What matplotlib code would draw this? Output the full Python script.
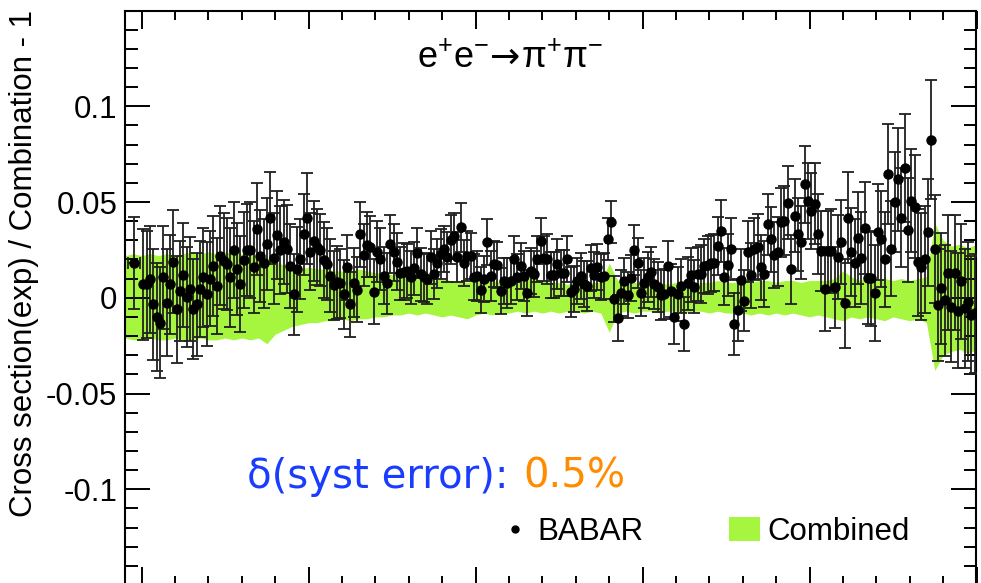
import matplotlib
matplotlib.use("Agg")
import matplotlib.pyplot as plt
import numpy as np
from matplotlib.ticker import MultipleLocator, FixedLocator, FuncFormatter
from matplotlib.lines import Line2D
from matplotlib.patches import Patch

plt.rcParams['font.family'] = ['Liberation Sans', 'DejaVu Sans']
plt.rcParams['axes.unicode_minus'] = False
plt.rcParams['mathtext.fontset'] = 'custom'
plt.rcParams['mathtext.rm'] = 'Liberation Sans'
plt.rcParams['mathtext.it'] = 'Liberation Sans:italic'

# BABAR points, 2 MeV bins from 0.300 to 0.800 GeV
bin_start = 0.300
bin_width = 0.002

ratio_a = [0.007, 0.007, 0.0096, -0.0035, -0.010, -0.013, 0.0106, -0.0026, 0.007, 0.0188,
           -0.006, 0.0035, 0.0118, 0.0005, 0.0045, -0.006, -0.0035, 0.0045, 0.0106, 0.0019,
           0.010, 0.0167, 0.0063, 0.022, 0.0193, 0.0176, 0.0106, 0.0249, 0.015, 0.0071,
           0.0197, 0.0249, 0.0249, 0.0162, 0.0358, 0.0219, 0.0179, 0.028]
ratio_b = [0.0418, 0.0205, 0.0327, 0.0249, 0.0292, 0.0254, 0.0167, 0.0017, 0.0148, 0.0202,
           0.0331, 0.0414, 0.024, 0.0296, 0.0266, 0.0249, 0.0197, 0.0176, 0.0115, 0.0066,
           0.008, 0.0075, 0.0019, 0.0158, -0.0033, 0.0078, 0.0043, 0.0331, 0.0223, 0.0278,
           0.0266, 0.0031, 0.024, 0.0202, 0.0115, 0.0075, 0.028, 0.0237, 0.0188, 0.0127,
           0.0136, 0.0139]
ratio_c = [0.0106, 0.0153, 0.0235, 0.0122, 0.0106, 0.0096, 0.0211, 0.0122, 0.0179, 0.0228,
           0.0254, 0.0211, 0.0304, 0.0322, 0.0211, 0.0367, 0.0183, 0.0219, 0.0219, 0.0106,
           0.0115, 0.004, 0.0096, 0.0292, 0.0115, 0.0176, 0.017, 0.0035, 0.0085, 0.0075,
           0.0085, 0.0202, 0.0106, 0.0167, 0.0115, 0.0023, 0.0141, 0.0122, 0.0202, 0.0296,
           0.0205, 0.0202, 0.0118]
ratio_d = [0.0118, 0.0176, 0.013, 0.0127, 0.0200, 0.0028, 0.0045, 0.0085, 0.0113, 0.0071,
           0.0063, 0.0153, 0.0118, 0.0162, 0.0106, 0.0113, 0.0306, 0.0397, -0.0007, -0.0104,
           0.0023, 0.0085, 0.0014, 0.0101, 0.0249, 0.0183, 0.0026, 0.0078, 0.011, 0.0136,
           0.0071, 0.0057, 0.0014, 0.0019, 0.0167, 0.0037, -0.0099, 0.0019, 0.0061, -0.0137,
           0.0075, 0.0118]
ratio_e = [0.0058, 0.0124, 0.0124, 0.0165, 0.0171, 0.0179, 0.0183, 0.027, 0.0348, 0.011,
           0.0171, 0.0254, -0.0137, -0.0064, 0.0092, -0.0016, 0.024, 0.0118, 0.0254, 0.0266,
           0.0158, 0.0124, 0.0384, 0.0306, 0.0223, 0.024, 0.0393, 0.0402, 0.0496, 0.0148,
           0.0428, 0.0331, 0.0289, 0.0592, 0.0505, 0.0453, 0.0492, 0.0332, 0.0245, 0.0044,
           0.0245, 0.0245, 0.0054]
ratio_f = [0.0214, 0.0292, -0.003, 0.0419, 0.024, 0.0183, 0.031, 0.0206, 0.0362, 0.0101,
           0.0101, 0.0026, 0.0345, 0.0305, 0.02, 0.0646, 0.0257, 0.0501, 0.0618, 0.0418,
           0.0678, 0.0353, 0.0507, 0.0475, 0.0185, 0.0162, 0.02, 0.0341, 0.0826, 0.0254,
           -0.0038, 0.0049, -0.0012, 0.013, -0.0047, 0.013, -0.0068, 0.0087, -0.0056, -0.0021,
           -0.009, -0.0082]

err_a = [0.029, 0.028, 0.028, 0.029, 0.028, 0.029, 0.027, 0.028, 0.026, 0.027,
         0.028, 0.026, 0.027, 0.026, 0.027, 0.026, 0.027, 0.025, 0.026, 0.027,
         0.025, 0.026, 0.025, 0.026, 0.025, 0.024, 0.026, 0.025, 0.024, 0.025,
         0.025, 0.024, 0.025, 0.024, 0.024, 0.024, 0.023, 0.024]
err_b = [0.024, 0.024, 0.023, 0.023, 0.022, 0.023, 0.022, 0.021, 0.022, 0.021,
         0.021, 0.024, 0.020, 0.021, 0.020, 0.019, 0.020, 0.019, 0.019, 0.018,
         0.019, 0.018, 0.018, 0.017, 0.017, 0.018, 0.017, 0.017, 0.016, 0.017,
         0.016, 0.017, 0.016, 0.016, 0.015, 0.016, 0.015, 0.015, 0.015, 0.014,
         0.015, 0.014]
err_c = [0.014, 0.014, 0.013, 0.014, 0.013, 0.013, 0.014, 0.013, 0.013, 0.013,
         0.012, 0.013, 0.013, 0.012, 0.013, 0.013, 0.012, 0.013, 0.012, 0.012,
         0.013, 0.012, 0.012, 0.012, 0.013, 0.012, 0.012, 0.012, 0.012, 0.013,
         0.012, 0.012, 0.012, 0.012, 0.013, 0.012, 0.012, 0.012, 0.012, 0.012,
         0.012, 0.013, 0.012]
err_d = [0.012, 0.013, 0.012, 0.012, 0.012, 0.013, 0.012, 0.012, 0.012, 0.012,
         0.013, 0.012, 0.012, 0.012, 0.012, 0.012, 0.011, 0.011, 0.012, 0.012,
         0.012, 0.012, 0.012, 0.012, 0.013, 0.013, 0.012, 0.013, 0.013, 0.013,
         0.013, 0.013, 0.013, 0.013, 0.013, 0.014, 0.014, 0.014, 0.014, 0.014,
         0.014, 0.014]
err_e = [0.014, 0.014, 0.015, 0.014, 0.015, 0.015, 0.015, 0.015, 0.016, 0.015,
         0.016, 0.016, 0.016, 0.016, 0.016, 0.016, 0.016, 0.017, 0.016, 0.017,
         0.017, 0.017, 0.016, 0.017, 0.017, 0.018, 0.018, 0.018, 0.019, 0.018,
         0.019, 0.019, 0.019, 0.020, 0.020, 0.020, 0.021, 0.021, 0.021, 0.022,
         0.021, 0.022, 0.021]
err_f = [0.022, 0.022, 0.023, 0.024, 0.023, 0.023, 0.024, 0.024, 0.024, 0.024,
         0.025, 0.025, 0.025, 0.025, 0.025, 0.026, 0.025, 0.026, 0.027, 0.026,
         0.028, 0.027, 0.027, 0.027, 0.028, 0.028, 0.028, 0.028, 0.031, 0.028,
         0.029, 0.029, 0.029, 0.030, 0.029, 0.030, 0.030, 0.030, 0.031, 0.031,
         0.031, 0.031]

# first (wide) BABAR bin
first_x, first_dx, first_y, first_err = 0.2955, 0.0035, 0.018, 0.024

# combined uncertainty band, sampled every 5 MeV from 0.290 to 0.800 GeV
band_start = 0.290
band_step = 0.005
band_hi = [0.022, 0.023, 0.022, 0.023, 0.022, 0.023, 0.022, 0.023, 0.024, 0.023,
           0.024, 0.023, 0.024, 0.023, 0.023, 0.022, 0.022, 0.021, 0.019, 0.017,
           0.016, 0.015, 0.016, 0.015, 0.015, 0.014, 0.014, 0.014, 0.015, 0.014,
           0.013, 0.013, 0.012, 0.012, 0.010, 0.010, 0.009, 0.009, 0.010, 0.009,
           0.009, 0.008, 0.009, 0.008, 0.009, 0.008, 0.009, 0.008, 0.010, 0.010,
           0.009, 0.008, 0.008, 0.007, 0.008, 0.007, 0.008, 0.008, 0.018, 0.009,
           0.007, 0.008, 0.007, 0.008, 0.008, 0.007, 0.008, 0.008, 0.007, 0.008,
           0.008, 0.009, 0.008, 0.008, 0.009, 0.008, 0.009, 0.009, 0.008, 0.009,
           0.009, 0.008, 0.009, 0.009, 0.009, 0.010, 0.014, 0.011, 0.009, 0.010,
           0.009, 0.010, 0.009, 0.010, 0.009, 0.010, 0.011, 0.039, 0.030, 0.027,
           0.028, 0.026, 0.028]
band_lo = [-0.021, -0.022, -0.022, -0.021, -0.022, -0.022, -0.021, -0.022, -0.022, -0.021,
           -0.022, -0.022, -0.021, -0.022, -0.021, -0.022, -0.021, -0.024, -0.019, -0.017,
           -0.015, -0.014, -0.013, -0.013, -0.012, -0.012, -0.011, -0.012, -0.011, -0.011,
           -0.010, -0.010, -0.009, -0.009, -0.008, -0.009, -0.008, -0.009, -0.010, -0.009,
           -0.010, -0.011, -0.009, -0.008, -0.009, -0.008, -0.008, -0.007, -0.008, -0.007,
           -0.008, -0.007, -0.008, -0.007, -0.007, -0.008, -0.007, -0.008, -0.018, -0.008,
           -0.007, -0.008, -0.007, -0.007, -0.008, -0.007, -0.007, -0.008, -0.007, -0.007,
           -0.008, -0.007, -0.008, -0.008, -0.008, -0.009, -0.008, -0.009, -0.008, -0.009,
           -0.008, -0.009, -0.010, -0.009, -0.010, -0.011, -0.012, -0.010, -0.011, -0.010,
           -0.011, -0.012, -0.010, -0.011, -0.012, -0.011, -0.013, -0.038, -0.030, -0.028,
           -0.027, -0.029, -0.027]

ratio = np.array(ratio_a + ratio_b + ratio_c + ratio_d + ratio_e + ratio_f)
err = np.array(err_a + err_b + err_c + err_d + err_e + err_f)
energy = bin_start + bin_width * (np.arange(len(ratio)) + 0.5)
band_x = band_start + band_step * np.arange(len(band_hi))

green = '#a6f53e'

fig = plt.figure(figsize=(9.81, 5.83), dpi=100)
ax = fig.add_axes([125 / 981, -2 / 583, 851.5 / 981, 574.5 / 583])

ax.fill_between(band_x, band_lo, band_hi, color=green, lw=0, zorder=1)
ax.errorbar(energy, ratio, yerr=err, fmt='o', color='black', ms=6.5,
            ecolor='#202020', elinewidth=1.3, capsize=4, capthick=1.3, zorder=3)
ax.errorbar([first_x], [first_y], xerr=[first_dx], yerr=[first_err], fmt='o',
            color='black', ms=6.5, ecolor='#202020', elinewidth=1.3, capsize=4,
            capthick=1.3, zorder=3)

ax.set_xlim(0.29, 0.80)
ax.set_ylim(-0.15, 0.15)
ax.xaxis.set_major_locator(MultipleLocator(0.1))
ax.xaxis.set_minor_locator(MultipleLocator(0.02))
ax.yaxis.set_major_locator(FixedLocator([-0.1, -0.05, 0, 0.05, 0.1]))
ax.yaxis.set_minor_locator(MultipleLocator(0.01))
ax.yaxis.set_major_formatter(FuncFormatter(lambda v, p: f'{v:g}'))

ax.tick_params(which='both', direction='in', top=True, right=True, width=1.4,
               labelbottom=False)
ax.tick_params(axis='y', which='major', length=18, labelsize=22.5, pad=5.5)
ax.tick_params(axis='y', which='minor', length=9)
ax.tick_params(axis='x', which='major', length=13)
ax.tick_params(axis='x', which='minor', length=6.5)
for s in ax.spines.values():
    s.set_linewidth(1.5)

fig.text(24.5 / 981, 1 - 10 / 583, 'Cross section(exp) / Combination - 1',
         rotation=90, ha='center', va='top', fontsize=22.5)

# process label, built from pieces so the arrow can come from DejaVu Sans
renderer = fig.canvas.get_renderer()
x_px = 417
for piece, fam in [('e$^{+}$e$^{-}$', 'Liberation Sans'), ('→', 'DejaVu Sans'),
                   ('π$^{+}$π$^{-}$', 'Liberation Sans')]:
    t = fig.text(x_px / 981, 1 - 68 / 583, piece, family=fam, fontsize=26,
                 va='baseline')
    x_px = t.get_window_extent(renderer).x1 + 1

syst = fig.text(247 / 981, 1 - 488 / 583, 'δ(syst error):', color='#1a3cff',
                fontsize=29, family='DejaVu Sans', va='baseline')
ax.annotate('0.5%', xy=(1, 0), xycoords=syst, xytext=(11, 0),
            textcoords='offset points', va='bottom', ha='left',
            color='#ff8c00', fontsize=29, family='DejaVu Sans')

handles = [Line2D([], [], marker='o', ls='none', color='black', markersize=5),
           Patch(facecolor=green, edgecolor='none')]
ax.legend(handles, ['BABAR', 'Combined'], ncol=2, frameon=False, fontsize=22.5,
          handlelength=1.0, handleheight=0.8, handletextpad=0.22,
          columnspacing=2.75, borderpad=0, borderaxespad=0, loc='center left',
          bbox_to_anchor=(499 / 981, 1 - 532 / 583), bbox_transform=fig.transFigure)

fig.savefig('out.png', dpi=100)
